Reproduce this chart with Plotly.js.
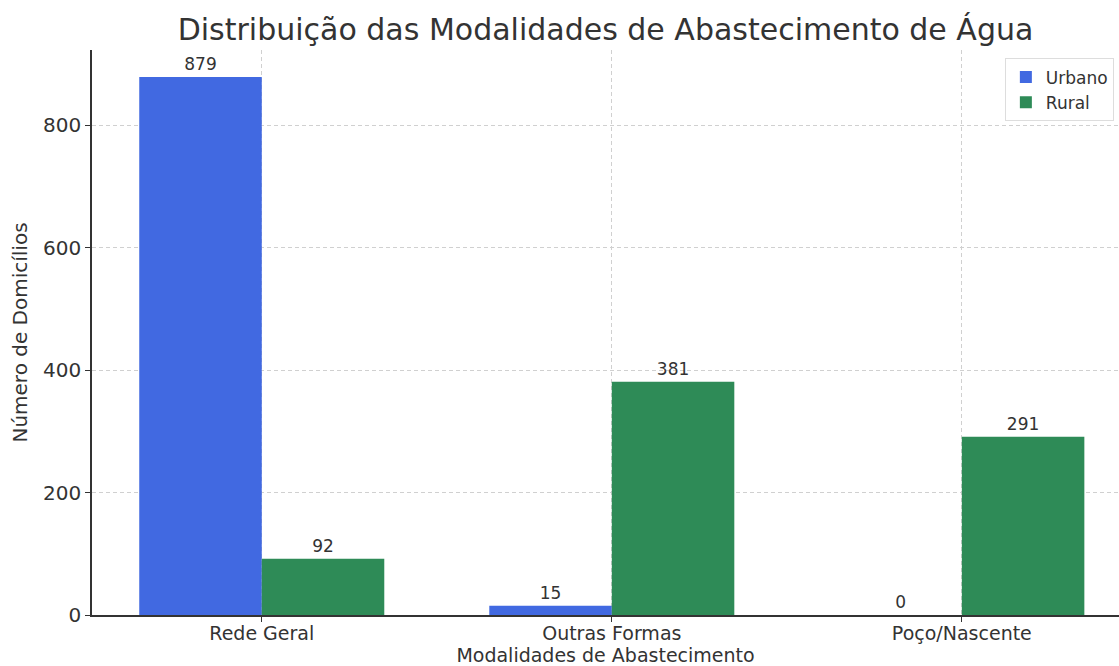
<!DOCTYPE html>
<html><head><meta charset="utf-8">
<script src="https://cdn.plot.ly/plotly-3.0.1.min.js"></script>
<style>html,body{margin:0;padding:0;background:#fff}</style>
</head><body>
<div id="chart" style="width:1119px;height:666px"></div>
<script>
var categories = ["Rede Geral", "Outras Formas", "Poço/Nascente"];
var urbano = [879, 15, 0];
var rural = [92, 381, 291];
var yTicks = [0, 200, 400, 600, 800];

var font = "DejaVu Sans, sans-serif";
var traces = [
  {type:"bar", name:"Urbano", x:categories, y:urbano, marker:{color:"#4169E1"},
   text:urbano.map(String), textposition:"outside", cliponaxis:false,
   textfont:{family:font, size:17, color:"#333"}},
  {type:"bar", name:"Rural", x:categories, y:rural, marker:{color:"#2E8B57"},
   text:rural.map(String), textposition:"outside", cliponaxis:false,
   textfont:{family:font, size:17, color:"#333"}}
];
var layout = {
  width:1119, height:666,
  margin:{l:92, r:0, t:50, b:51},
  paper_bgcolor:"#fff", plot_bgcolor:"#fff",
  font:{family:font, color:"#333"},
  barmode:"group", bargap:0.3, bargroupgap:0,
  title:{text:"Distribuição das Modalidades de Abastecimento de Água", font:{family:font, size:30, color:"#333"}, x:0.5, xref:"paper", y:0.972, yref:"container"},
  xaxis:{type:"category", range:[-0.485, 2.449], showline:true, linecolor:"#333", linewidth:1.5,
    ticks:"outside", ticklen:5, tickcolor:"#333", ticklabelstandoff:-5, tickfont:{size:19, family:font, color:"#333"},
    showgrid:true, gridcolor:"#d0d0d0", griddash:"4px,3px", gridwidth:1, zeroline:false,
    title:{text:"Modalidades de Abastecimento", font:{size:19, family:font, color:"#333"}, standoff:3}},
  yaxis:{range:[0, 922.95], tickvals:yTicks, showline:true, linecolor:"#333", linewidth:1.5,
    ticks:"outside", ticklen:5, tickcolor:"#333", tickfont:{size:20, family:font, color:"#333"},
    showgrid:true, gridcolor:"#d0d0d0", griddash:"4px,3px", gridwidth:1, zeroline:false,
    title:{text:"Número de Domicílios", font:{size:20, family:font, color:"#333"}, standoff:10}},
  legend:{x:0.995, y:0.985, xanchor:"right", yanchor:"top", bgcolor:"rgba(255,255,255,0.8)",
    bordercolor:"#ddd", borderwidth:1, font:{size:17, family:font, color:"#333"}},
  showlegend:true
};
Plotly.newPlot("chart", traces, layout, {displayModeBar:false, responsive:false});
</script>
</body></html>
